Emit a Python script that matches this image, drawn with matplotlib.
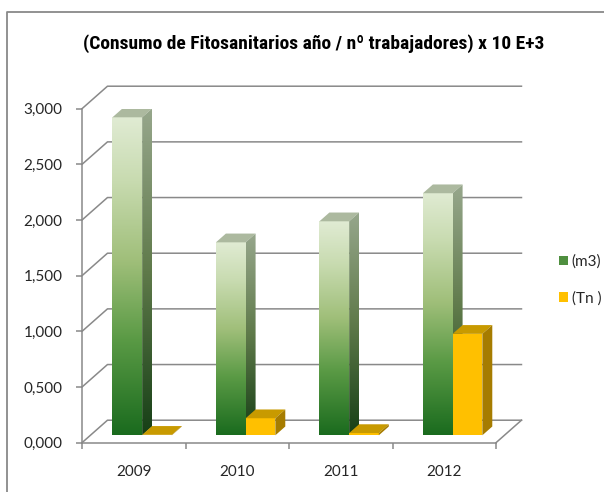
import numpy as np
import matplotlib
matplotlib.use('Agg')
import matplotlib.pyplot as plt
from matplotlib.colors import LinearSegmentedColormap
from matplotlib.patches import Polygon, Patch
from matplotlib.lines import Line2D

# datos
years = ['2009', '2010', '2011', '2012']
m3 = [2.856, 1.733, 1.922, 2.174]
tn = [0.004, 0.153, 0.020, 0.911]
labels = ['(m3)', '(Tn )']
yticks = [0, 0.5, 1.0, 1.5, 2.0, 2.5, 3.0]

grey = '#898989'
dx, dy = 0.246, 0.202      # profundidad de la pared (unidades de datos)
f0, f1 = 0.33, 0.72        # posicion de las barras dentro de la profundidad
w = 0.287                  # ancho de cada barra

front_cm = LinearSegmentedColormap.from_list('front', [(0, '#1a6b1e'), (0.3, '#5a9a45'), (0.55, '#a0bf7a'), (0.8, '#c8dbb0'), (1, '#e0ebd3')])
side_cm = LinearSegmentedColormap.from_list('side', [(0, '#163f16'), (0.5, '#5f7a4a'), (1, '#97a78c')])
grad = np.linspace(0, 1, 256).reshape(-1, 1)

fig = plt.figure(figsize=(6.04, 4.92), dpi=100)
ax = fig.add_axes([82/604, 49.3/492, 414/604, 334/492])

# marco del grafico (cortado a la derecha y abajo)
fig.add_artist(Line2D([7/604, 7/604, 1], [0, 1 - 12/492, 1 - 12/492], transform=fig.transFigure, color=grey, lw=1.3))

n = len(years)
# paredes y suelo
for v in yticks:
    ax.plot([0, dx, n + dx], [v, v + dy, v + dy], color=grey, lw=1.1, clip_on=False, zorder=1)
ax.plot([n, n + dx], [0, dy], color=grey, lw=1.1, clip_on=False, zorder=1)


def face(pts, color=None, cmap=None, z=3):
    poly = Polygon(pts, closed=True, facecolor=color if color else 'none', edgecolor='none', zorder=z)
    ax.add_patch(poly)
    if cmap is not None:
        xs = [p[0] for p in pts]
        ys = [p[1] for p in pts]
        im = ax.imshow(grad, extent=[min(xs), max(xs), min(ys), max(ys)], origin='lower',
                       aspect='auto', cmap=cmap, zorder=z)
        im.set_clip_path(poly)


def bar3d(x0, val, front, top, side, z):
    xa, ya = x0 + f0 * dx, f0 * dy
    xb, yb = x0 + f1 * dx, f1 * dy
    face([(xa, ya), (xa + w, ya), (xa + w, ya + val), (xa, ya + val)],
         color=None if isinstance(front, LinearSegmentedColormap) else front,
         cmap=front if isinstance(front, LinearSegmentedColormap) else None, z=z)
    face([(xa, ya + val), (xa + w, ya + val), (xb + w, yb + val), (xb, yb + val)], color=top, z=z)
    face([(xa + w, ya), (xa + w, ya + val), (xb + w, yb + val), (xb + w, yb)],
         color=None if isinstance(side, LinearSegmentedColormap) else side,
         cmap=side if isinstance(side, LinearSegmentedColormap) else None, z=z)


for i in range(n):
    x0 = i + 0.5 - w
    bar3d(x0, m3[i], front_cm, '#acb99f', side_cm, 3 + 2 * i)
    bar3d(x0 + w, tn[i], '#ffc000', '#c89a00', '#a67c00', 4 + 2 * i)

ax.set_xlim(0, n)
ax.set_ylim(0, 3)
for s in ['top', 'right']:
    ax.spines[s].set_visible(False)
for s in ['left', 'bottom']:
    ax.spines[s].set_color(grey)
    ax.spines[s].set_linewidth(1.1)

ax.set_yticks(yticks)
ax.set_yticklabels(['{:.3f}'.format(v).replace('.', ',') for v in yticks])
ax.set_xticks(range(n + 1))
ax.set_xticklabels([])
ax.set_xticks(np.arange(n) + 0.5, minor=True)
ax.set_xticklabels(years, minor=True)
ax.tick_params(axis='y', length=4.5, width=1.1, color=grey, pad=9.5, labelsize=11, labelcolor='#262626')
ax.tick_params(axis='x', which='major', length=4.5, width=1.1, color=grey)
ax.tick_params(axis='x', which='minor', length=0, pad=16, labelsize=11, labelcolor='#262626')
for t in ax.get_yticklabels() + ax.get_xticklabels(minor=True):
    t.set_family(['Lato', 'DejaVu Sans'])

fig.text(314/604, 1 - 44/492, '(Consumo de Fitosanitarios año / nº trabajadores) x 10 E+3',
         ha='center', va='center', fontsize=14, fontweight='bold',
         family=['Roboto Condensed', 'Roboto', 'DejaVu Sans'])

handles = [Patch(facecolor='#4f8f3f'), Patch(facecolor='#ffc000')]
leg = fig.legend(handles, labels, loc='upper left', bbox_to_anchor=(551/604, 1 - 247/492),
                 frameon=False, handlelength=0.6, handleheight=0.6, handletextpad=0.25,
                 labelspacing=1.45, borderpad=0, prop={'family': ['Lato', 'DejaVu Sans'], 'size': 11})
for t in leg.get_texts():
    t.set_color('#262626')

fig.savefig('out.png', dpi=100)
